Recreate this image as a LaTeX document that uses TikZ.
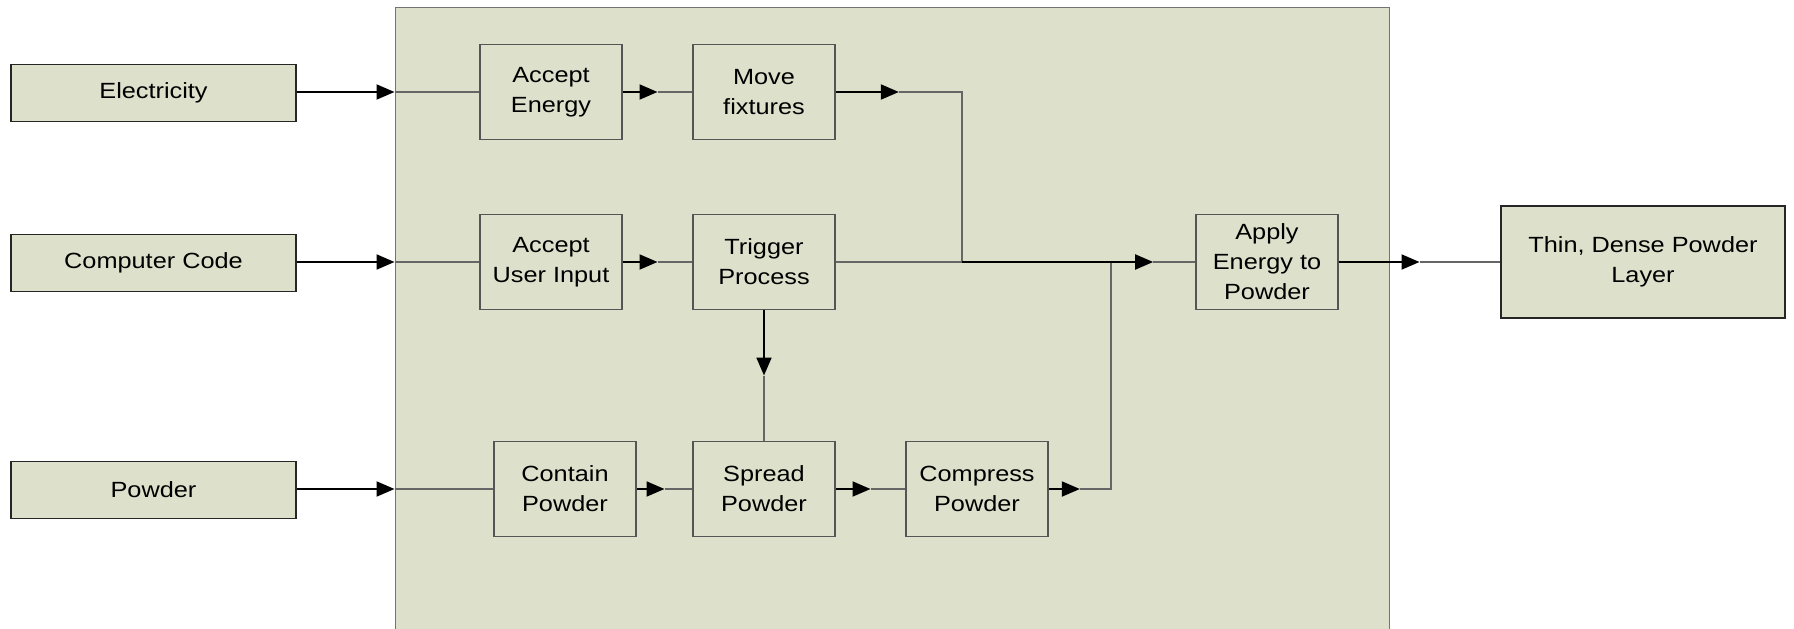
\documentclass[tikz,border=0pt]{standalone}
\usepackage{fontspec}
\setmainfont{Liberation Sans}[FakeStretch=1.15]
\usetikzlibrary{arrows.meta,calc}
\definecolor{boxfill}{RGB}{221,225,203}
\definecolor{edge}{RGB}{85,85,85}

\begin{document}
\begin{tikzpicture}[x=1pt,y=-1pt,>={Triangle[length=18pt,width=15pt]},
  font=\fontsize{22}{30}\selectfont,
  box/.style={fill=boxfill,align=center,inner sep=0pt,line width=1.4pt},
  inbox/.style={box,draw=black!85,minimum width=285pt,minimum height=57pt},
  fnbox/.style={box,draw=edge,minimum width=142pt,minimum height=95pt},
  go/.style={->,line width=2pt,draw=black},
  tail/.style={line width=1.3pt,draw=black!60}]
\useasboundingbox (0,0) rectangle (1794,629);

% system boundary
\node[box,draw=black!55,minimum width=994pt,minimum height=660pt,anchor=north west] (sys) at (394.5,7) {};

% inputs and output
\node[inbox] (elec) at (153.5,93) {Electricity};
\node[inbox] (code) at (153.5,263) {Computer Code};
\node[inbox] (powder) at (153.5,490) {Powder};
\node[box,draw=black!85,minimum width=284pt,minimum height=112pt] (layer) at (1643,262) {Thin, Dense Powder\\Layer};

% functions
\node[fnbox] (accE) at (551,92) {Accept\\Energy};
\node[fnbox] (move) at (764,92) {Move\\fixtures};
\node[fnbox] (accU) at (551,262) {Accept\\User Input};
\node[fnbox] (trig) at (764,262) {Trigger\\Process};
\node[fnbox] (contain) at (565,489) {Contain\\Powder};
\node[fnbox] (spread) at (764,489) {Spread\\Powder};
\node[fnbox] (compress) at (977,489) {Compress\\Powder};
\node[fnbox] (apply) at (1267,262) {Apply\\Energy to\\Powder};

% junctions
\coordinate (j1) at (962,262);
\coordinate (j2) at (1111,262);

\coordinate (in1) at (accE -| sys.west);
\coordinate (in2) at (accU -| sys.west);
\coordinate (in3) at (contain -| sys.west);
\coordinate (m1) at ($(accE.east)!0.5!(move.west)$);
\coordinate (m2) at ($(accU.east)!0.5!(trig.west)$);
\coordinate (m3) at ($(contain.east)!0.5!(spread.west)$);
\coordinate (m4) at ($(spread.east)!0.5!(compress.west)$);
\coordinate (m5) at ($(move.east)!0.5!(move.east -| j1)$);
\coordinate (m6) at ($(trig.south)!0.5!(spread.north)$);
\coordinate (m7) at ($(compress.east)!0.5!(compress.east -| j2)$);
\coordinate (m8) at ($(j2)!0.5!(apply.west)$);
\coordinate (m9) at ($(apply.east)!0.5!(layer.west)$);

\draw[go] (elec.east |- in1) -- (in1);
\draw[tail] (in1) -- (accE);
\draw[go] (code.east |- in2) -- (in2);
\draw[tail] (in2) -- (accU);
\draw[go] (powder.east |- in3) -- (in3);
\draw[tail] (in3) -- (contain);

\draw[go] (accE) -- (m1);
\draw[tail] (m1) -- (move);
\draw[go] (accU) -- (m2);
\draw[tail] (m2) -- (trig);
\draw[go] (contain) -- (m3);
\draw[tail] (m3) -- (spread);
\draw[go] (spread) -- (m4);
\draw[tail] (m4) -- (compress);

\draw[go] (move) -- (m5);
\draw[tail] (m5) -| (j1);
\draw[tail] (trig) -- (j1);
\draw[go] (trig) -- (m6);
\draw[tail] (m6) -- (spread);
\draw[go] (compress) -- (m7);
\draw[tail] (m7) -| (j2);
\draw[go] (j1) -- (m8);
\draw[tail] (m8) -- (apply);
\draw[go] (apply) -- (m9);
\draw[tail] (m9) -- (layer);
\end{tikzpicture}
\end{document}
